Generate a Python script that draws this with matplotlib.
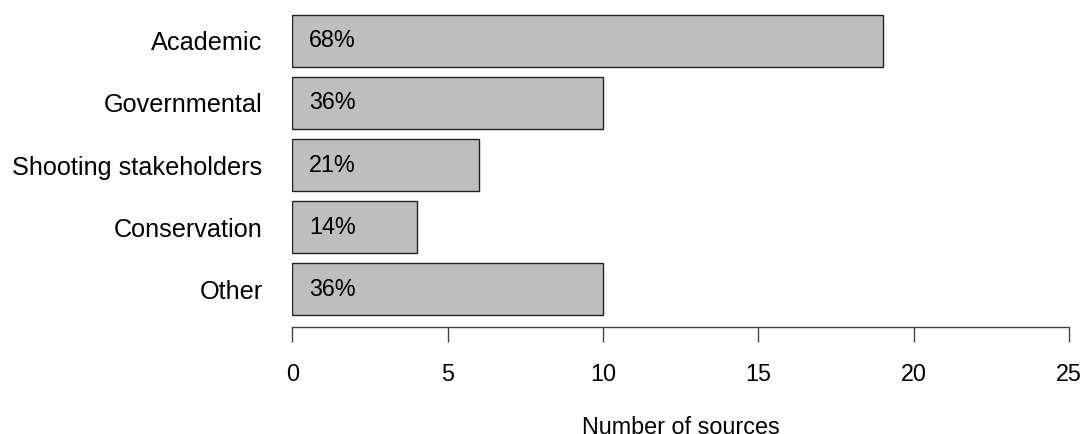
import matplotlib
matplotlib.use("Agg")
import matplotlib.pyplot as plt
import numpy as np

categories = ["Academic", "Governmental", "Shooting stakeholders", "Conservation", "Other"]
counts = [19, 10, 6, 4, 10]
percent_labels = ["68%", "36%", "21%", "14%", "36%"]
xticks = [0, 5, 10, 15, 20, 25]
xlabel = "Number of sources"

plt.rcParams['font.family'] = ['Liberation Sans', 'DejaVu Sans']

fig = plt.figure(figsize=(10.84, 4.34), dpi=100)
left = 292.3 / 1084
right = 1069 / 1084
bottom = 1 - 327.0 / 434
top = 1 - 3.0 / 434
ax = fig.add_axes([left, bottom, right - left, top - bottom])

space = 0.2
ypos = 0.5 + space + np.arange(len(categories)) * (1 + space)
ax.barh(ypos, counts, height=1.0, color="#BEBEBE", edgecolor="#222222", linewidth=1.0)

for y, lab in zip(ypos, percent_labels):
    ax.text(2.04, y, lab, ha="right", va="center", fontsize=16.8, color="black")

span = ypos[-1] + 0.5 - (ypos[0] - 0.5)
pad = 0.04 * span
ax.set_ylim(ypos[-1] + 0.5 + pad, ypos[0] - 0.5 - pad)
ax.set_xlim(0, 25)

ax.set_yticks(ypos)
ax.set_yticklabels(categories, fontsize=18.2)
ax.tick_params(axis="y", length=0, pad=21.5)

ax.set_xticks(xticks)
ax.set_xticklabels([str(t) for t in xticks], fontsize=16.8)
ax.tick_params(axis="x", length=10.6, width=1.0, color="#444444", pad=15)

for s in ["top", "right", "left"]:
    ax.spines[s].set_visible(False)
ax.spines["bottom"].set_bounds(0, 25)
ax.spines["bottom"].set_color("#444444")
ax.spines["bottom"].set_linewidth(1.0)

ax.set_xlabel(xlabel, fontsize=16.8, labelpad=22)

fig.savefig("out.png", dpi=100)
